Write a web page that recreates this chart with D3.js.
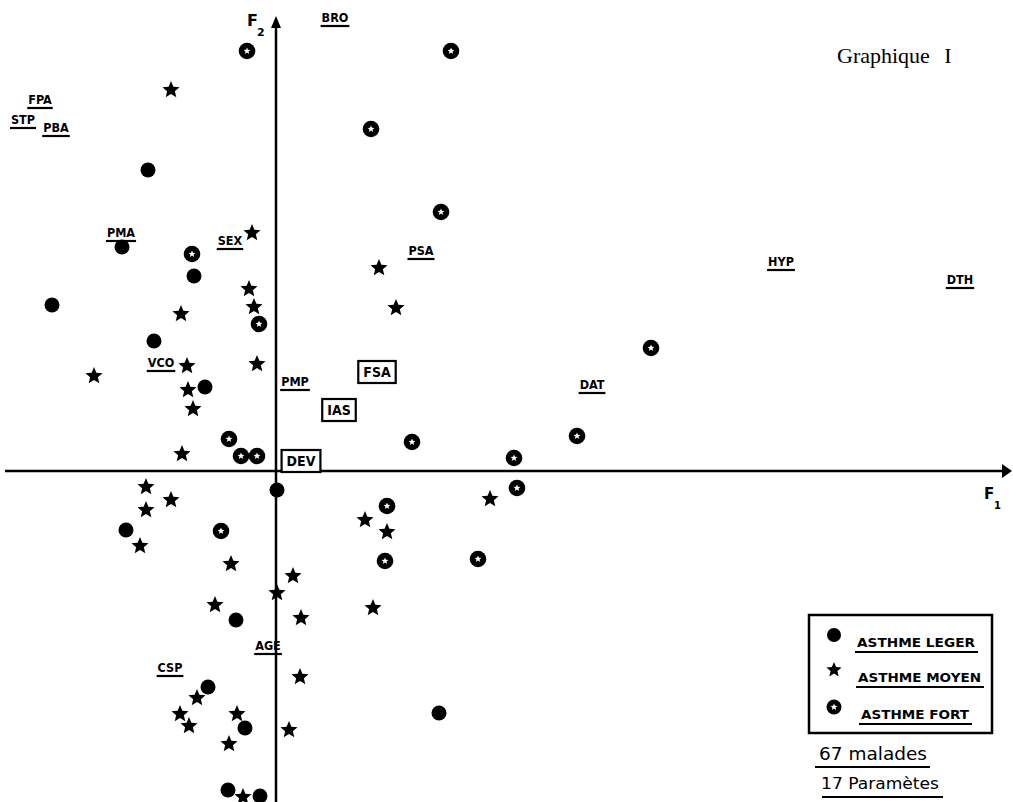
<!DOCTYPE html>
<html><head><meta charset="utf-8">
<script src="https://cdn.jsdelivr.net/npm/d3@7"></script>
<style>body{margin:0;background:#fff}svg{display:block}</style>
</head><body>
<svg id="c" width="1013" height="802"></svg>
<script>
// ---- data (factor coordinates F1, F2) ----
const leger = [[-1.28,3.01],[-1.54,2.24],[-0.82,1.95],[-2.24,1.66],[-1.22,1.30],[-0.71,0.84],[0.01,-0.19],[-1.50,-0.59],[-0.40,-1.49],[-0.68,-2.16],[-0.31,-2.57],[-0.48,-3.19],[-0.16,-3.25],[1.63,-2.42]];
const moyen = [[-1.05,3.81],[-0.24,2.38],[-0.27,1.82],[-0.22,1.64],[-0.95,1.57],[1.03,2.03],[1.20,1.63],[-1.82,0.95],[-0.89,1.05],[-0.19,1.07],[-0.88,0.81],[-0.83,0.62],[-0.94,0.17],[-1.30,-0.16],[-1.30,-0.39],[-1.05,-0.29],[-1.36,-0.75],[-0.45,-0.93],[-0.61,-1.34],[0.01,-1.22],[0.17,-1.05],[0.25,-1.47],[0.89,-0.49],[1.11,-0.61],[0.97,-1.37],[2.14,-0.28],[0.24,-2.06],[0.13,-2.59],[-0.39,-2.43],[-0.47,-2.73],[-0.96,-2.43],[-0.79,-2.27],[-0.87,-2.55],[-0.33,-3.26]];
const fort = [[-0.29,4.20],[1.75,4.20],[0.95,3.42],[1.65,2.59],[-0.84,2.17],[-0.17,1.47],[3.75,1.23],[3.01,0.35],[-0.47,0.32],[-0.35,0.15],[-0.19,0.15],[1.36,0.29],[2.38,0.13],[2.41,-0.17],[1.11,-0.35],[-0.55,-0.60],[1.09,-0.90],[2.02,-0.88]];
const paramNames = ["BRO","FPA","STP","PBA","PMA","SEX","PSA","HYP","DTH","VCO","PMP","FSA","IAS","DAT","DEV","AGE","CSP"];
const paramF1 = [0.59,-2.36,-2.53,-2.20,-1.55,-0.46,1.45,5.05,6.84,-1.15,0.19,1.01,0.63,3.16,0.25,-0.08,-1.06];
const paramF2 = [4.49,3.67,3.47,3.39,2.34,2.26,2.16,2.05,1.87,1.04,0.85,0.94,0.56,0.82,0.05,-1.79,-2.01];
const boxedParams = ["FSA","IAS","DEV"];
const legendLabels = ["ASTHME LEGER","ASTHME MOYEN","ASTHME FORT"];
const titleWords = ["Graphique", "I"];
const noteLines = ["67 malades","17 Paramètes"];

// ---- layout ----
const W = 1013, H = 802;
const svg = d3.select("#c");
const x = d3.scaleLinear().domain([-2.76, 7.37]).range([0, W]);
const y = d3.scaleLinear().domain([4.71, -3.31]).range([0, H]);
const ink = "#000";

// star symbol
const star = { draw(ctx, size) {
  const R = Math.sqrt(size), r = R * 0.45;
  for (let i = 0; i < 10; i++) {
    const a = -Math.PI / 2 + i * Math.PI / 5, rad = i % 2 ? r : R;
    const px = rad * Math.cos(a), py = rad * Math.sin(a);
    i ? ctx.lineTo(px, py) : ctx.moveTo(px, py);
  }
  ctx.closePath();
}};
const bigStar = d3.symbol().type(star).size(9 * 9)();
const smallStar = d3.symbol().type(star).size(3.6 * 3.6)();

// axes
const x0 = x(0), y0 = y(0);
svg.append("line").attr("x1", x(-2.71)).attr("x2", x(7.30)).attr("y1", y0).attr("y2", y0)
  .attr("stroke", ink).attr("stroke-width", 2.5);
svg.append("path").attr("d", `M${x(7.26)},${y0-7} L${x(7.36)},${y0} L${x(7.26)},${y0+7} Z`).attr("fill", ink);
svg.append("line").attr("x1", x0).attr("x2", x0).attr("y1", y(4.50)).attr("y2", H)
  .attr("stroke", ink).attr("stroke-width", 2.5);
svg.append("path").attr("d", `M${x0-5},${y(4.43)} L${x0},${y(4.55)} L${x0+5},${y(4.43)} Z`).attr("fill", ink);

// axis names
const axF = "DejaVu Sans, sans-serif";
svg.append("text").attr("x", x0 - 29).attr("y", 26).attr("font-family", axF).attr("font-weight", "bold").attr("font-size", 16).text("F");
svg.append("text").attr("x", x0 - 19).attr("y", 36).attr("font-family", axF).attr("font-weight", "bold").attr("font-size", 11).text("2");
svg.append("text").attr("x", 984).attr("y", y0 + 28).attr("font-family", axF).attr("font-weight", "bold").attr("font-size", 15).text("F");
svg.append("text").attr("x", 994).attr("y", y0 + 38).attr("font-family", axF).attr("font-weight", "bold").attr("font-size", 10).text("1");

// points
svg.append("g").selectAll("circle").data(leger).join("circle")
  .attr("cx", d => x(d[0])).attr("cy", d => y(d[1])).attr("r", 7.5).attr("fill", ink);
svg.append("g").selectAll("path").data(moyen).join("path")
  .attr("transform", d => `translate(${x(d[0])},${y(d[1])})`).attr("d", bigStar).attr("fill", ink);
const gf = svg.append("g").selectAll("g").data(fort).join("g")
  .attr("transform", d => `translate(${x(d[0])},${y(d[1])})`);
gf.append("circle").attr("r", 8.3).attr("fill", ink);
gf.append("path").attr("d", smallStar).attr("fill", "#fff");

// parameter labels
const lblFont = "DejaVu Sans Condensed, DejaVu Sans, sans-serif";
const params = paramNames.map((n, i) => ({ n, f1: paramF1[i], f2: paramF2[i], boxed: boxedParams.includes(n) }));
const gl = svg.append("g").selectAll("g").data(params).join("g")
  .attr("transform", d => `translate(${x(d.f1)},${y(d.f2)})`);
gl.append("text").attr("text-anchor", "middle").attr("font-family", lblFont)
  .attr("font-weight", "bold").attr("font-size", d => d.boxed ? 14 : 12.5).text(d => d.n);
gl.each(function(d) {
  const g = d3.select(this), t = g.select("text").node();
  const w = t.getComputedTextLength();
  if (d.boxed) {
    g.insert("rect", "text").attr("x", -w / 2 - 5).attr("y", -16).attr("width", w + 10).attr("height", 22)
      .attr("fill", "#fff").attr("stroke", ink).attr("stroke-width", 2.2);
  } else {
    g.append("line").attr("x1", -w / 2 - 1).attr("x2", w / 2 + 1).attr("y1", 4).attr("y2", 4)
      .attr("stroke", ink).attr("stroke-width", 2.2);
  }
});

// title
const tt = svg.append("text").attr("x", 837).attr("y", 63).attr("font-family", "Liberation Serif, serif")
  .attr("font-size", 22);
tt.append("tspan").text(titleWords[0]);
tt.append("tspan").attr("dx", 9).text(" " + titleWords[1]);

// legend
const lg = svg.append("g");
lg.append("rect").attr("x", 809).attr("y", 615).attr("width", 183).attr("height", 118)
  .attr("fill", "none").attr("stroke", ink).attr("stroke-width", 2.5);
const ly = [635, 670, 707];
lg.append("circle").attr("cx", 834).attr("cy", ly[0]).attr("r", 7).attr("fill", ink);
lg.append("path").attr("transform", `translate(834,${ly[1]})`).attr("d", d3.symbol().type(star).size(8 * 8)()).attr("fill", ink);
lg.append("circle").attr("cx", 834).attr("cy", ly[2]).attr("r", 7.5).attr("fill", ink);
lg.append("path").attr("transform", `translate(834,${ly[2]})`).attr("d", smallStar).attr("fill", "#fff");
const legW = [118, 123, 108];
const legX = [857, 858, 861];
legendLabels.forEach((s, i) => {
  lg.append("text").attr("x", legX[i]).attr("y", ly[i] + 12).attr("font-family", axF)
    .attr("font-weight", "bold").attr("font-size", 12.5).attr("textLength", legW[i]).attr("lengthAdjust", "spacingAndGlyphs").text(s);
  lg.append("line").attr("x1", legX[i] - 2).attr("x2", legX[i] + legW[i] + 3)
    .attr("y1", ly[i] + 17).attr("y2", ly[i] + 17).attr("stroke", ink).attr("stroke-width", 2);
});

// notes
const nf = "DejaVu Sans, sans-serif";
svg.append("text").attr("x", 819).attr("y", 760).attr("font-family", nf).attr("font-size", 17)
  .attr("textLength", 108).attr("lengthAdjust", "spacingAndGlyphs").text(noteLines[0]);
svg.append("line").attr("x1", 815).attr("x2", 930).attr("y1", 767).attr("y2", 767).attr("stroke", ink).attr("stroke-width", 2.2);
svg.append("text").attr("x", 821).attr("y", 789).attr("font-family", nf).attr("font-size", 15)
  .attr("textLength", 118).attr("lengthAdjust", "spacingAndGlyphs").text(noteLines[1]);
svg.append("line").attr("x1", 822).attr("x2", 943).attr("y1", 797).attr("y2", 797).attr("stroke", ink).attr("stroke-width", 2.2);
</script>
</body></html>
